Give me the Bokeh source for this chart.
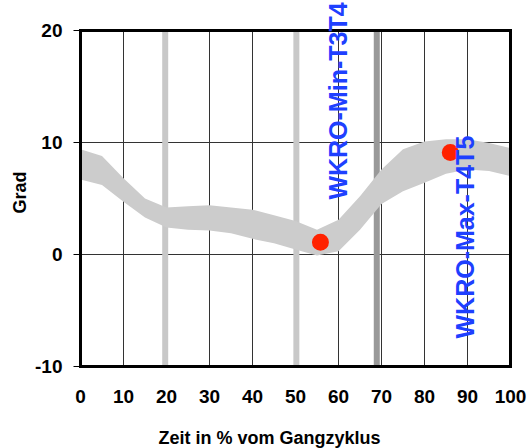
from bokeh.plotting import figure
from bokeh.models import Range1d, Label, FixedTicker, ColumnDataSource
from bokeh.embed import file_html
from bokeh.resources import INLINE

# ---- data ----
cycle_pct = [0, 5, 10, 15, 20, 25, 30, 35, 40, 45, 50, 55, 60, 65, 70, 75, 80, 85, 90, 95, 100]
band_upper = [9.4, 8.8, 6.8, 5.0, 4.2, 4.3, 4.4, 4.2, 4.0, 3.5, 3.0, 2.2, 3.1, 5.2, 7.6, 9.4, 10.1, 10.3, 10.3, 9.95, 9.5]
band_lower = [6.7, 6.2, 4.7, 3.3, 2.4, 2.2, 2.15, 1.9, 1.4, 1.0, 0.45, -0.1, 0.3, 2.2, 4.5, 5.65, 6.4, 7.2, 7.6, 7.45, 7.0]

marker_x = [55.8, 86.0]
marker_y = [1.1, 9.1]

event_light = [19.7, 50.2]
event_dark = [68.9]

label_texts = ["WKRO-Min-T3T4", "WKRO-Max-T4T5"]
label_x = [59.9, 89.5]
label_y = [4.9, -7.5]

x_min, x_max = 0, 100
y_min, y_max = -10, 20
x_ticks = list(range(0, 101, 10))
y_ticks = [-10, 0, 10, 20]
y_tick_labels = ["-10", "0", "10", "20"]
grid_x = [10, 20, 30, 40, 50, 60, 70, 80, 90]
grid_y = [0, 10]
x_title = "Zeit in % vom Gangzyklus"
y_title = "Grad"

FONT = "Liberation Sans"

# ---- layout (pixels) ----
W, H = 527, 448
plot_left_px, plot_right_px = 80, 510     # where x_min / x_max land
plot_top_px, plot_bottom_px = 30, 366     # where y_max / y_min land
sx = (plot_right_px - plot_left_px) / (x_max - x_min)
sy = (plot_bottom_px - plot_top_px) / (y_max - y_min)

def px_to_x(px):
    return x_min + (px - plot_left_px) / sx

def px_to_y(py):
    return y_min + (plot_bottom_px - py) / sy

# the frame covers the whole canvas; axes are pinned to the plot box edges
x_range = Range1d(px_to_x(0), px_to_x(W))
y_range = Range1d(px_to_y(H), px_to_y(0))

p = figure(width=W, height=H, x_range=x_range, y_range=y_range,
           output_backend="svg", toolbar_location=None,
           min_border_left=0, min_border_right=0, min_border_top=0, min_border_bottom=0)
p.background_fill_color = "white"
p.border_fill_color = "white"
p.outline_line_color = None
p.grid.visible = False

# axes
p.xaxis.fixed_location = y_min
p.yaxis.fixed_location = x_min
p.xaxis.ticker = FixedTicker(ticks=x_ticks)
p.yaxis.ticker = FixedTicker(ticks=y_ticks)
p.yaxis.major_label_overrides = {t: s for t, s in zip(y_ticks, y_tick_labels)}
for ax in (p.xaxis, p.yaxis):
    ax.axis_line_color = None
    ax.minor_tick_line_color = None
    ax.major_label_text_font = FONT
    ax.major_label_text_font_style = "bold"
    ax.major_label_text_font_size = "19px"
    ax.major_label_text_color = "black"
p.xaxis.major_tick_line_color = None
p.xaxis.major_tick_out = 0
p.xaxis.major_tick_in = 0
p.xaxis.major_label_standoff = 23
p.yaxis.major_tick_line_color = "black"
p.yaxis.major_tick_in = 0
p.yaxis.major_tick_out = 7
p.yaxis.major_label_standoff = 11

# grid lines
p.segment(x0=grid_x, x1=grid_x, y0=[y_min] * len(grid_x), y1=[y_max] * len(grid_x),
          line_color="#333333", line_width=1)
p.segment(x0=[x_min] * len(grid_y), x1=[x_max] * len(grid_y), y0=grid_y, y1=grid_y,
          line_color="#333333", line_width=1)

# event lines
p.segment(x0=event_light, x1=event_light, y0=[y_min] * len(event_light), y1=[y_max] * len(event_light),
          line_color="#c8c8c8", line_width=6)
p.segment(x0=event_dark, x1=event_dark, y0=[y_min] * len(event_dark), y1=[y_max] * len(event_dark),
          line_color="#999999", line_width=6)

# band
src = ColumnDataSource(dict(x=cycle_pct, lo=band_lower, hi=band_upper))
p.varea(x="x", y1="lo", y2="hi", source=src, fill_color="#cccccc")

# markers
p.scatter(marker_x, marker_y, size=17, fill_color="#ff2200", line_color=None)

# plot box border
p.segment(x0=[x_min, x_max, x_min, x_min], x1=[x_min, x_max, x_max, x_max],
          y0=[y_min, y_min, y_min, y_max], y1=[y_max, y_max, y_min, y_max],
          line_color="black", line_width=3, line_cap="square")

# rotated labels
for t, lx, ly in zip(label_texts, label_x, label_y):
    p.add_layout(Label(x=lx, y=ly, text=t, angle=90, angle_units="deg",
                       text_align="left", text_baseline="middle",
                       text_font=FONT, text_font_style="bold", text_font_size="25px",
                       text_color="#1e40ff"))

# axis titles
p.add_layout(Label(x=px_to_x(269), y=px_to_y(437), text=x_title,
                   text_align="center", text_baseline="middle",
                   text_font=FONT, text_font_style="bold", text_font_size="18px",
                   text_color="black"))
p.add_layout(Label(x=px_to_x(19), y=px_to_y(192), text=y_title, angle=90, angle_units="deg",
                   text_align="center", text_baseline="middle",
                   text_font=FONT, text_font_style="bold", text_font_size="18px",
                   text_color="black"))

open("out.html", "w").write(file_html(p, INLINE))
